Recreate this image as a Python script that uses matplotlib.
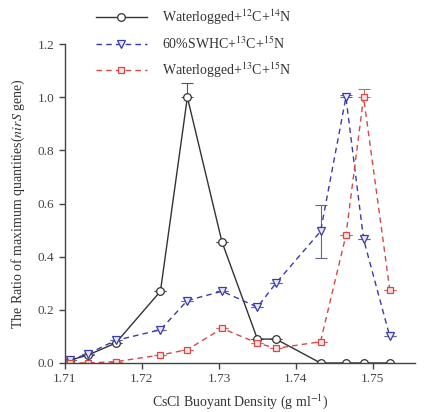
import numpy as np
import matplotlib
matplotlib.use("Agg")
import matplotlib.pyplot as plt
from matplotlib.lines import Line2D

plt.rcParams['font.family'] = ['Liberation Serif', 'DejaVu Serif']
plt.rcParams['mathtext.fontset'] = 'stix'

# CsCl buoyant density of each fraction
density = [1.7106, 1.7130, 1.7166, 1.7224, 1.7259, 1.7304,
           1.7350, 1.7374, 1.7432, 1.7465, 1.7488, 1.7522]

# ratio of maximum quantities
wl_12c14n = [0.01, 0.03, 0.075, 0.27, 1.0, 0.455, 0.09, 0.09, 0.0, 0.0, 0.0, 0.0]
swhc_13c15n = [0.01, 0.035, 0.085, 0.125, 0.235, 0.27, 0.21, 0.30, 0.495, 1.0, 0.465, 0.10]
wl_13c15n = [0.0, 0.0, 0.005, 0.03, 0.05, 0.13, 0.075, 0.055, 0.08, 0.48, 1.0, 0.275]

# error bars (lower, upper) - only a few are visible
err_12c14n = [[0] * 12, [0, 0, 0, 0, 0.055, 0, 0, 0, 0, 0, 0, 0]]
err_swhc = [[0, 0, 0, 0, 0, 0, 0, 0, 0.1, 0, 0, 0],
            [0, 0, 0, 0, 0, 0, 0, 0, 0.1, 0.01, 0, 0]]
err_13c15n = [[0] * 12, [0, 0, 0, 0, 0, 0, 0, 0, 0, 0, 0.03, 0]]

labels = ["Waterlogged+$^{12}$C+$^{14}$N",
          "60%SWHC+$^{13}$C+$^{15}$N",
          "Waterlogged+$^{13}$C+$^{15}$N"]

fig = plt.figure(figsize=(4.26, 4.12), dpi=100)
ax = fig.add_axes([0.1526, 0.119, 0.822, 0.774])

black = '#333333'
blue = '#3a3aa8'
red = '#d24a4a'

styles = [
    dict(color=black, ls='-', marker='o', ms=5.5, mfc='white', mec=black),
    dict(color=blue, ls=(0, (4, 3)), marker='v', ms=6, mfc='#e8e8f8', mec=blue),
    dict(color=red, ls=(0, (4, 3)), marker='s', ms=5, mfc='#f8e0e0', mec=red),
]
series = [wl_12c14n, swhc_13c15n, wl_13c15n]
errs = [err_12c14n, err_swhc, err_13c15n]
ecols = ['#555555', '#666688', '#cc6666']

handles = []
for ys, er, st, ec in zip(series, errs, styles, ecols):
    ax.errorbar(density, ys, yerr=er, fmt='none', ecolor=ec,
                capsize=4, elinewidth=0.8, capthick=0.8)
    ax.plot(density, ys, lw=1.0, mew=0.9, **st)
    handles.append(Line2D([], [], lw=1.0, mew=0.9, **st))

ax.set_xlim(1.71, 1.7555)
ax.set_ylim(0, 1.2)
ax.set_xticks([1.71, 1.72, 1.73, 1.74, 1.75])
ax.set_xticklabels(['1.71', '1.72', '1.73', '1.74', '1.75'])
ax.set_yticks(np.arange(0, 1.21, 0.2))
ax.set_yticklabels(['%.1f' % v for v in np.arange(0, 1.21, 0.2)])
ax.spines['top'].set_visible(False)
ax.spines['right'].set_visible(False)
for s in ['left', 'bottom']:
    ax.spines[s].set_color('#444444')
    ax.spines[s].set_linewidth(1.0)
ax.tick_params(direction='out', length=4, width=1.0, colors='#444444',
               labelsize=9.5, labelcolor='#444444')

ax.set_xlabel("CsCl Buoyant Density (g ml$^{-1}$)", fontsize=10, color='#333333', labelpad=5)
ax.set_ylabel("The Ratio of maximum quantities($\\mathit{nirS}$ gene)", fontsize=10,
              color='#333333', labelpad=8)

leg = fig.legend(handles, labels, loc='upper left', bbox_to_anchor=(0.195, 1.012),
                 frameon=False, fontsize=10, handlelength=3.7, handletextpad=1.1,
                 labelspacing=0.62, labelcolor='#333333')

fig.savefig("out.png", dpi=100)
